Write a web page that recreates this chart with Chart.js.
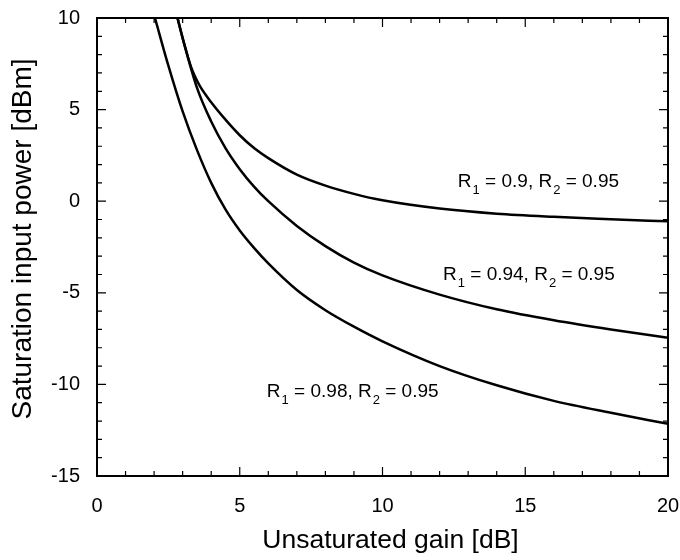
<!DOCTYPE html>
<html>
<head>
<meta charset="utf-8">
<script src="https://cdn.jsdelivr.net/npm/chart.js@4.4.1/dist/chart.umd.min.js"></script>
<style>
  html, body { margin: 0; padding: 0; background: #fff; }
  #wrap { width: 680px; height: 560px; }
</style>
</head>
<body>
<div id="wrap"><canvas id="c" width="680" height="560"></canvas></div>
<script>
// ---- data ----
const gainR098  = [2.03, 2.5, 3.0, 3.5, 4.0, 4.5, 5.0, 5.5, 6.0, 7.0, 8.0, 9.0, 10.0, 12.0, 14.0, 16.0, 18.0, 20.0];
const powerR098 = [10, 7.4, 4.9, 2.8, 1.0, -0.45, -1.6, -2.55, -3.4, -4.85, -5.95, -6.85, -7.65, -9.0, -10.05, -10.9, -11.55, -12.15];

const gainR094  = [2.82, 3.0, 3.5, 4.0, 4.5, 5.0, 5.5, 6.0, 7.0, 8.0, 9.0, 10.0, 12.0, 14.0, 16.0, 18.0, 20.0];
const powerR094 = [10, 8.9, 6.2, 4.35, 2.9, 1.75, 0.8, 0.0, -1.35, -2.45, -3.35, -4.05, -5.1, -5.9, -6.5, -7.0, -7.45];

const gainR090  = [2.82, 3.0, 3.3, 3.45, 3.6, 4.0, 4.5, 5.0, 5.5, 6.0, 7.0, 8.0, 9.0, 10.0, 12.0, 14.0, 16.0, 18.0, 20.0];
const powerR090 = [10, 8.9, 7.3, 6.75, 6.3, 5.4, 4.45, 3.6, 2.9, 2.35, 1.45, 0.85, 0.4, 0.05, -0.4, -0.68, -0.85, -0.98, -1.1];

const xTickValues = [0, 5, 10, 15, 20];
const yTickValues = [-15, -10, -5, 0, 5, 10];

// curve labels: [main, sub, main, sub, main] and anchor (data coords, baseline-left)
const curveLabels = [
  { parts: ['R', '1', ' = 0.9, R', '2', ' = 0.95'],  gain: 12.64, power: 0.75 },
  { parts: ['R', '1', ' = 0.94, R', '2', ' = 0.95'], gain: 12.12, power: -4.3 },
  { parts: ['R', '1', ' = 0.98, R', '2', ' = 0.95'], gain: 5.95,  power: -10.69 }
];
const xTitle = 'Unsaturated gain [dB]';
const yTitle = 'Saturation input power [dBm]';

const FONT = "'Liberation Sans', Arial, Helvetica, sans-serif";

function pts(xs, ys) { return xs.map((x, i) => ({ x: x, y: ys[i] })); }

const lineStyle = {
  borderColor: '#000', borderWidth: 2.5, pointRadius: 0, fill: false,
  cubicInterpolationMode: 'monotone'
};

const framePlugin = {
  id: 'frame',
  afterDraw(chart) {
    const ctx = chart.ctx;
    const { left, right, top, bottom } = chart.chartArea;
    const xs = chart.scales.x, ys = chart.scales.y;
    ctx.save();
    ctx.strokeStyle = '#000';
    // minor / major inward ticks on all four sides
    ctx.lineWidth = 1.2;
    for (let v = xs.min; v <= xs.max; v += 1) {
      const px = xs.getPixelForValue(v);
      const len = (v % 5 === 0) ? 9 : 5;
      ctx.beginPath();
      ctx.moveTo(px, bottom); ctx.lineTo(px, bottom - len);
      ctx.moveTo(px, top); ctx.lineTo(px, top + len);
      ctx.stroke();
    }
    for (let v = ys.min; v <= ys.max; v += 1) {
      const py = ys.getPixelForValue(v);
      const len = (v % 5 === 0) ? 9 : 5;
      ctx.beginPath();
      ctx.moveTo(left, py); ctx.lineTo(left + len, py);
      ctx.moveTo(right, py); ctx.lineTo(right - len, py);
      ctx.stroke();
    }
    // frame
    ctx.lineWidth = 2;
    ctx.strokeRect(left, top, right - left, bottom - top);

    // curve labels with subscripts
    ctx.fillStyle = '#000';
    ctx.textBaseline = 'alphabetic';
    ctx.textAlign = 'left';
    curveLabels.forEach(lab => {
      let x = xs.getPixelForValue(lab.gain);
      const y = ys.getPixelForValue(lab.power);
      lab.parts.forEach((t, i) => {
        if (i % 2 === 0) {
          ctx.font = '19px ' + FONT;
          ctx.fillText(t, x, y);
        } else {
          ctx.font = '13px ' + FONT;
          ctx.fillText(t, x + 1, y + 7);
        }
        x += ctx.measureText(t).width + (i % 2 === 1 ? 1 : 0);
      });
    });

    // axis titles
    ctx.textAlign = 'center';
    ctx.textBaseline = 'middle';
    ctx.font = '26.5px ' + FONT;
    ctx.fillText(xTitle, (left + right) / 2 + 8, 541);
    ctx.save();
    ctx.font = '28px ' + FONT;
    ctx.translate(23, (top + bottom) / 2 - 8);
    ctx.rotate(-Math.PI / 2);
    ctx.fillText(yTitle, 0, 0);
    ctx.restore();
    ctx.restore();
  }
};

new Chart(document.getElementById('c'), {
  type: 'line',
  data: {
    datasets: [
      Object.assign({ label: 'R1 = 0.9, R2 = 0.95',  data: pts(gainR090, powerR090) }, lineStyle),
      Object.assign({ label: 'R1 = 0.94, R2 = 0.95', data: pts(gainR094, powerR094) }, lineStyle),
      Object.assign({ label: 'R1 = 0.98, R2 = 0.95', data: pts(gainR098, powerR098) }, lineStyle)
    ]
  },
  options: {
    responsive: false,
    animation: false,
    layout: { padding: { top: 18, right: 12, left: 0, bottom: 0 } },
    plugins: { legend: { display: false }, tooltip: { enabled: false } },
    scales: {
      x: {
        type: 'linear', min: 0, max: 20,
        afterBuildTicks: s => { s.ticks = xTickValues.map(v => ({ value: v })); },
        afterFit: s => { s.height = 84; s.paddingLeft = 0; s.paddingRight = 0; },
        grid: { display: false, drawTicks: false },
        border: { display: false },
        ticks: { color: '#000', font: { family: FONT, size: 20 }, padding: 18, maxRotation: 0,
                 callback: v => String(v) }
      },
      y: {
        type: 'linear', min: -15, max: 10,
        afterBuildTicks: s => { s.ticks = yTickValues.map(v => ({ value: v })); },
        afterFit: s => { s.width = 97; s.paddingTop = 0; s.paddingBottom = 0; },
        grid: { display: false, drawTicks: false },
        border: { display: false },
        ticks: { color: '#000', font: { family: FONT, size: 20 }, padding: 17,
                 callback: v => String(v) }
      }
    }
  },
  plugins: [framePlugin]
});
</script>
</body>
</html>
